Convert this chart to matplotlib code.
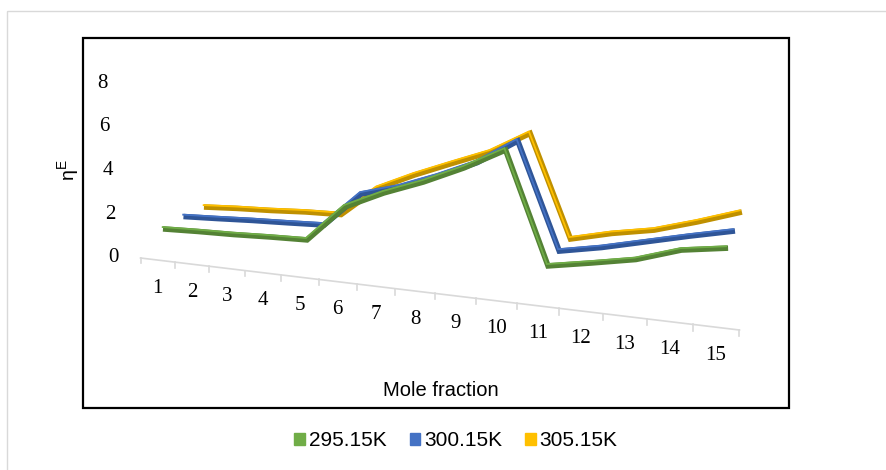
import numpy as np
import matplotlib
matplotlib.use("Agg")
import matplotlib.pyplot as plt
from matplotlib.transforms import Transform, Affine2D, offset_copy
from matplotlib.patches import Rectangle, Patch

# excess viscosity for the 15 compositions at three temperatures
cats = np.arange(1, 16)
temps = ["295.15K", "300.15K", "305.15K"]
eta_295 = [1.28, 1.34, 1.38, 1.45, 1.50, 3.10, 3.86, 4.48, 5.22, 6.10, 1.52, 1.83, 2.16, 2.72, 2.98]
eta_300 = [1.42, 1.51, 1.61, 1.69, 1.78, 3.34, 3.82, 4.47, 5.21, 6.28, 1.82, 2.17, 2.60, 3.03, 3.43]
eta_305 = [1.43, 1.56, 1.66, 1.79, 1.87, 3.26, 4.05, 4.75, 5.43, 6.41, 2.02, 2.47, 2.82, 3.37, 3.98]
yticks = [0, 2, 4, 6, 8]

SERIF = "Liberation Serif"
SANS = "Liberation Sans"
K = -0.01022  # perspective along the category direction


class Plane(Transform):
    """(category, value) on one depth slice -> canvas pixels."""
    input_dims = output_dims = 2
    is_separable = False
    has_inverse = False

    def __init__(self, p, q, r, s, t):
        super().__init__()
        self.p, self.q, self.r, self.s, self.t = p, q, r, s, t

    def transform_non_affine(self, xy):
        xy = np.asarray(xy, float)
        c, v = xy[:, 0], xy[:, 1]
        w = 1 + K * c
        return np.column_stack([(self.p + self.q * c) / w,
                                (self.r + self.s * c - self.t * v) / w])


floor = Plane(123.72, 32.17, 255.98, 1.404, 21.8)
planes = {
    "295.15K": Plane(128.82, 32.51, 253.0, 1.470, 21.8),
    "300.15K": Plane(150.12, 31.48, 242.7, 1.705, 21.2),
    "305.15K": Plane(171.42, 30.45, 232.4, 1.940, 20.6),
}
dark = {"295.15K": "#548235", "300.15K": "#2F5597", "305.15K": "#BF9000"}
light = {"295.15K": "#70AD47", "300.15K": "#4472C4", "305.15K": "#FFC000"}
values = {"295.15K": eta_295, "300.15K": eta_300, "305.15K": eta_305}

fig = plt.figure(figsize=(8.86, 4.70), dpi=100)
ax = fig.add_axes([0, 0, 1, 1])
ax.set_xlim(0, 886)
ax.set_ylim(470, 0)
ax.axis("off")

# chart area and plot area borders
ax.add_patch(Rectangle((7, 11), 900, 500, fill=False, ec="#D9D9D9", lw=1.0))
ax.add_patch(Rectangle((83, 38), 706, 370, fill=False, ec="black", lw=1.6))

# floor (category) axis with ticks between categories
ftr = floor + ax.transData
edges = np.arange(0.5, 16.0, 1.0)
ax.plot([edges[0], edges[-1]], [0, 0], color="#D9D9D9", lw=1.2, transform=ftr)
for e in edges:
    ax.plot([e, e], [0, -0.25], color="#D9D9D9", lw=1.2, transform=ftr)
lab_tr = offset_copy(ftr, fig=fig, x=0, y=-28, units="dots")
for c in cats:
    ax.text(c, 0, str(c), transform=lab_tr, ha="center", va="center",
            fontsize=15, family=SERIF)

# value axis labels, leaning slightly with the perspective
vtr = Affine2D(np.array([[0, -1.375, 113], [0, -21.875, 258], [0, 0, 1]])) + ax.transData
for v in yticks:
    ax.text(0, v, str(v), transform=vtr, ha="center", va="center",
            fontsize=15, family=SERIF)
ax.text(69, 170, "η$^\\mathregular{E}$", rotation=90, ha="center", va="center",
        fontsize=14, family=SANS)

# ribbons, back to front
for name in temps[::-1]:
    tr = planes[name] + ax.transData
    ax.plot(cats, values[name], color=dark[name], lw=4.0,
            solid_joinstyle="miter", solid_capstyle="butt", transform=tr)
    ax.plot(cats, values[name], color=light[name], lw=1.3,
            solid_joinstyle="miter", solid_capstyle="butt",
            transform=offset_copy(tr, fig=fig, x=-1.2, y=1.9, units="dots"))

ax.text(441, 390, "Mole fraction", ha="center", va="center", fontsize=14.5, family=SANS)

handles = [Patch(color=light[n]) for n in temps]
fig.legend(handles, temps, loc="center", bbox_to_anchor=(456 / 886, 1 - 441 / 470),
           ncol=3, frameon=False, handlelength=0.5, handleheight=0.5,
           handletextpad=0.2, columnspacing=1.1, prop={"family": SANS, "size": 15})

fig.savefig("out.png", dpi=100)
